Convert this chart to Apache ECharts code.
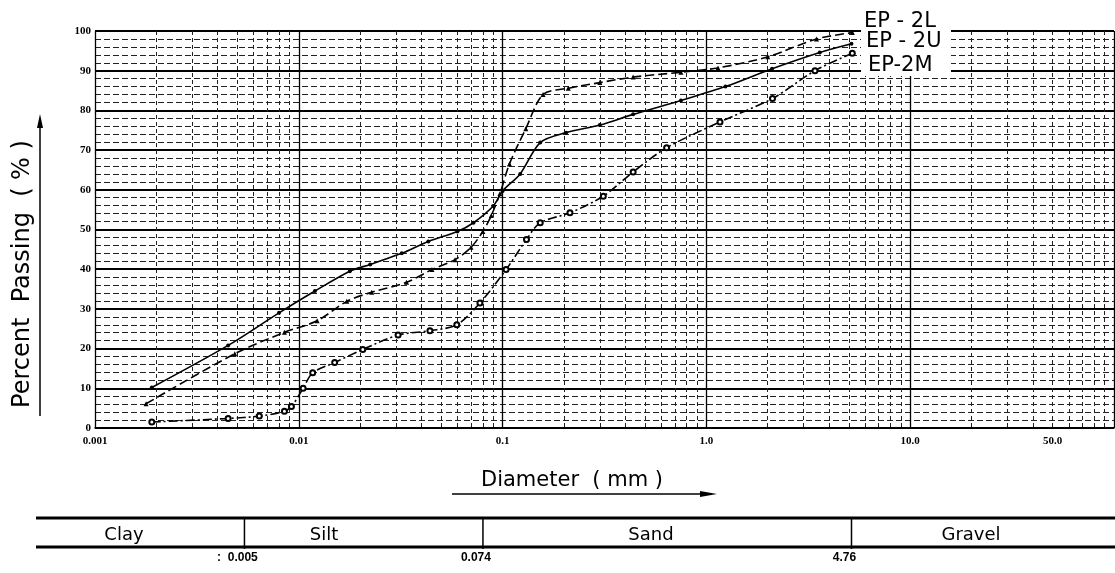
<!DOCTYPE html>
<html><head><meta charset="utf-8">
<script src="https://cdn.jsdelivr.net/npm/echarts@6/dist/echarts.min.js"></script>
<style>html,body{margin:0;padding:0;background:#fff}#c{width:1115px;height:573px}</style>
</head><body><div id="c"></div>
<script>
// ---- data (diameter in mm, percent passing) ----
const seriesNames = ['EP - 2L', 'EP - 2U', 'EP-2M'];
const ep2lDiam = [0.00178, 0.00485, 0.0085, 0.0123, 0.0172, 0.0228, 0.0338, 0.045, 0.0584, 0.07, 0.08, 0.088, 0.097, 0.108, 0.13, 0.158, 0.21, 0.3, 0.437, 0.75, 1.14, 2.0, 3.47, 5.2];
const ep2lPass = [6.1, 18.7, 24.1, 27.0, 31.9, 34.2, 36.7, 39.9, 42.4, 45.5, 49.5, 53.5, 59, 66.5, 75.4, 84, 85.6, 87, 88.4, 89.6, 90.7, 93.5, 98, 99.6];
const ep2uDiam = [0.0019, 0.0045, 0.008, 0.012, 0.0178, 0.0224, 0.032, 0.0432, 0.06, 0.072, 0.09, 0.1, 0.122, 0.153, 0.205, 0.3, 0.437, 0.75, 1.24, 2.1, 3.6, 5.15];
const ep2uPass = [10.2, 20.8, 29, 34.5, 39.5, 41.2, 44, 47, 49.5, 51.7, 55.9, 59.7, 64, 71.9, 74.4, 76.3, 79, 82.5, 86, 90.5, 94.6, 96.8];
const ep2mDiam = [0.0019, 0.0045, 0.0064, 0.0085, 0.0092, 0.0105, 0.0117, 0.015, 0.0206, 0.0307, 0.044, 0.0596, 0.0774, 0.104, 0.131, 0.153, 0.214, 0.312, 0.437, 0.638, 1.166, 2.11, 3.41, 5.2];
const ep2mPass = [1.5, 2.4, 3.0, 4.2, 5.4, 10, 13.9, 16.5, 19.8, 23.4, 24.5, 26, 31.5, 39.9, 47.5, 51.7, 54.2, 58.4, 64.5, 70.6, 77.1, 83, 90, 94.4];

const xTickValues = [0.001, 0.01, 0.1, 1, 10, 50];
const xTickLabels = ['0.001', '0.01', '0.1', '1.0', '10.0', '50.0'];
const minorGridValues = [];
[0.001, 0.01, 0.1, 1, 10].forEach(d => { for (let k = 2; k <= 9; k++) minorGridValues.push(d * k); });

const soilNames = ['Clay', 'Silt', 'Sand', 'Gravel'];
const soilBounds = [0.005, 0.074, 4.76];
const soilBoundLabels = [':  0.005', '0.074', '4.76'];

function pairs(xs, ys) { return xs.map((x, i) => [x, ys[i]]); }

const chart = echarts.init(document.getElementById('c'));
const tickFont = { fontFamily: 'Liberation Serif', fontWeight: 'bold', fontSize: 11, color: '#000' };

chart.setOption({
  animation: false,
  backgroundColor: '#fff',
  grid: { left: 95, right: 1, top: 31, bottom: 145 },
  xAxis: [{
    type: 'log', logBase: 10, min: 0.001, max: 100,
    axisLine: { show: true, lineStyle: { color: '#000', width: 1.5 } },
    axisTick: { show: false },
    axisLabel: Object.assign({
      customValues: xTickValues, margin: 8,
      formatter: v => {
        const i = xTickValues.findIndex(t => Math.abs(Math.log10(t) - Math.log10(v)) < 1e-6);
        return i >= 0 ? xTickLabels[i] : '';
      }
    }, tickFont),
    splitLine: { show: true, lineStyle: { color: '#000', width: 1.3 } }
  }, {
    type: 'log', logBase: 10, min: 0.001, max: 100, position: 'bottom',
    axisLine: { show: false },
    axisLabel: { show: false },
    axisTick: { show: false, customValues: minorGridValues },
    splitLine: { show: true, lineStyle: { color: '#222', width: 1, type: [4, 3] } }
  }],
  yAxis: {
    type: 'value', min: 0, max: 100, interval: 10,
    axisLine: { show: true, lineStyle: { color: '#000', width: 1, type: [3, 2] } },
    axisTick: { show: false },
    axisLabel: Object.assign({ margin: 4 }, tickFont),
    splitLine: { show: true, lineStyle: { color: '#000', width: 2 } },
    minorTick: { show: false, splitNumber: 5 },
    minorSplitLine: { show: true, lineStyle: { color: '#222', width: 1, type: [6, 3] } }
  },
  series: [{
    name: seriesNames[0], type: 'line', smooth: 0.3, data: pairs(ep2lDiam, ep2lPass),
    symbol: 'triangle', symbolSize: 5, z: 5,
    itemStyle: { color: '#000' },
    lineStyle: { color: '#000', width: 1.6, type: [9, 4] }
  }, {
    name: seriesNames[1], type: 'line', smooth: 0.3, data: pairs(ep2uDiam, ep2uPass),
    symbol: 'circle', symbolSize: 4, z: 5,
    itemStyle: { color: '#000' },
    lineStyle: { color: '#000', width: 1.6 }
  }, {
    name: seriesNames[2], type: 'line', smooth: 0.3, data: pairs(ep2mDiam, ep2mPass),
    symbol: 'emptyCircle', symbolSize: 5, z: 5,
    itemStyle: { color: '#000', borderColor: '#000', borderWidth: 1 },
    lineStyle: { color: '#000', width: 1.6, type: [9, 3, 2, 3] }
  }]
});

// ---- annotations ----
const g = [];
// white box behind curve labels
g.push({ type: 'rect', shape: { x: 861, y: 10, width: 90, height: 66 }, style: { fill: '#fff' }, z: 10 });
const lblStyle = { fontFamily: 'DejaVu Sans', fontSize: 21, fill: '#000' };
[[864, 22], [866, 42], [868, 66]].forEach((p, i) => {
  g.push({ type: 'text', x: p[0], y: p[1], z: 11, style: Object.assign({ text: seriesNames[i], verticalAlign: 'middle' }, lblStyle) });
});
// y title + arrow
g.push({ type: 'text', x: 23, y: 274, rotation: Math.PI / 2, z: 11,
  style: { text: 'Percent  Passing  ( % )', fontFamily: 'DejaVu Sans', fontSize: 24, fill: '#000', align: 'center', verticalAlign: 'middle' } });
g.push({ type: 'line', shape: { x1: 40, y1: 416, x2: 40, y2: 118 }, style: { stroke: '#000', lineWidth: 1.5 } });
g.push({ type: 'polygon', shape: { points: [[37, 128], [43, 128], [40, 114]] }, style: { fill: '#000' } });
// x title + arrow
g.push({ type: 'text', x: 572, y: 481, z: 11,
  style: { text: 'Diameter  ( mm )', fontFamily: 'DejaVu Sans', fontSize: 21, fill: '#000', align: 'center', verticalAlign: 'middle' } });
g.push({ type: 'line', shape: { x1: 452, y1: 494, x2: 712, y2: 494 }, style: { stroke: '#000', lineWidth: 1.5 } });
g.push({ type: 'polygon', shape: { points: [[700, 491], [700, 497], [717, 494]] }, style: { fill: '#000' } });
// soil classification band
g.push({ type: 'line', shape: { x1: 36, y1: 518, x2: 1115, y2: 518 }, style: { stroke: '#000', lineWidth: 3 } });
g.push({ type: 'line', shape: { x1: 36, y1: 547, x2: 1115, y2: 547 }, style: { stroke: '#000', lineWidth: 3 } });
const bx = soilBounds.map(v => chart.convertToPixel({ xAxisIndex: 0 }, v));
const dividerShift = 7;
bx.forEach((x, i) => {
  g.push({ type: 'line', shape: { x1: x + dividerShift, y1: 518, x2: x + dividerShift, y2: 549 }, style: { stroke: '#000', lineWidth: 1.5 } });
  g.push({ type: 'text', x: x, y: 558, style: { text: soilBoundLabels[i], fontFamily: 'Liberation Sans Narrow, Liberation Sans', fontWeight: 'bold', fontSize: 12, fill: '#000', align: 'center', verticalAlign: 'middle' } });
});
const soilLabelX = [124, 324, 651, 971];
soilNames.forEach((n, i) => {
  g.push({ type: 'text', x: soilLabelX[i], y: 535, style: { text: n, fontFamily: 'DejaVu Sans', fontSize: 18, fill: '#000', align: 'center', verticalAlign: 'middle' } });
});
chart.setOption({ graphic: g });
</script>
</body></html>
